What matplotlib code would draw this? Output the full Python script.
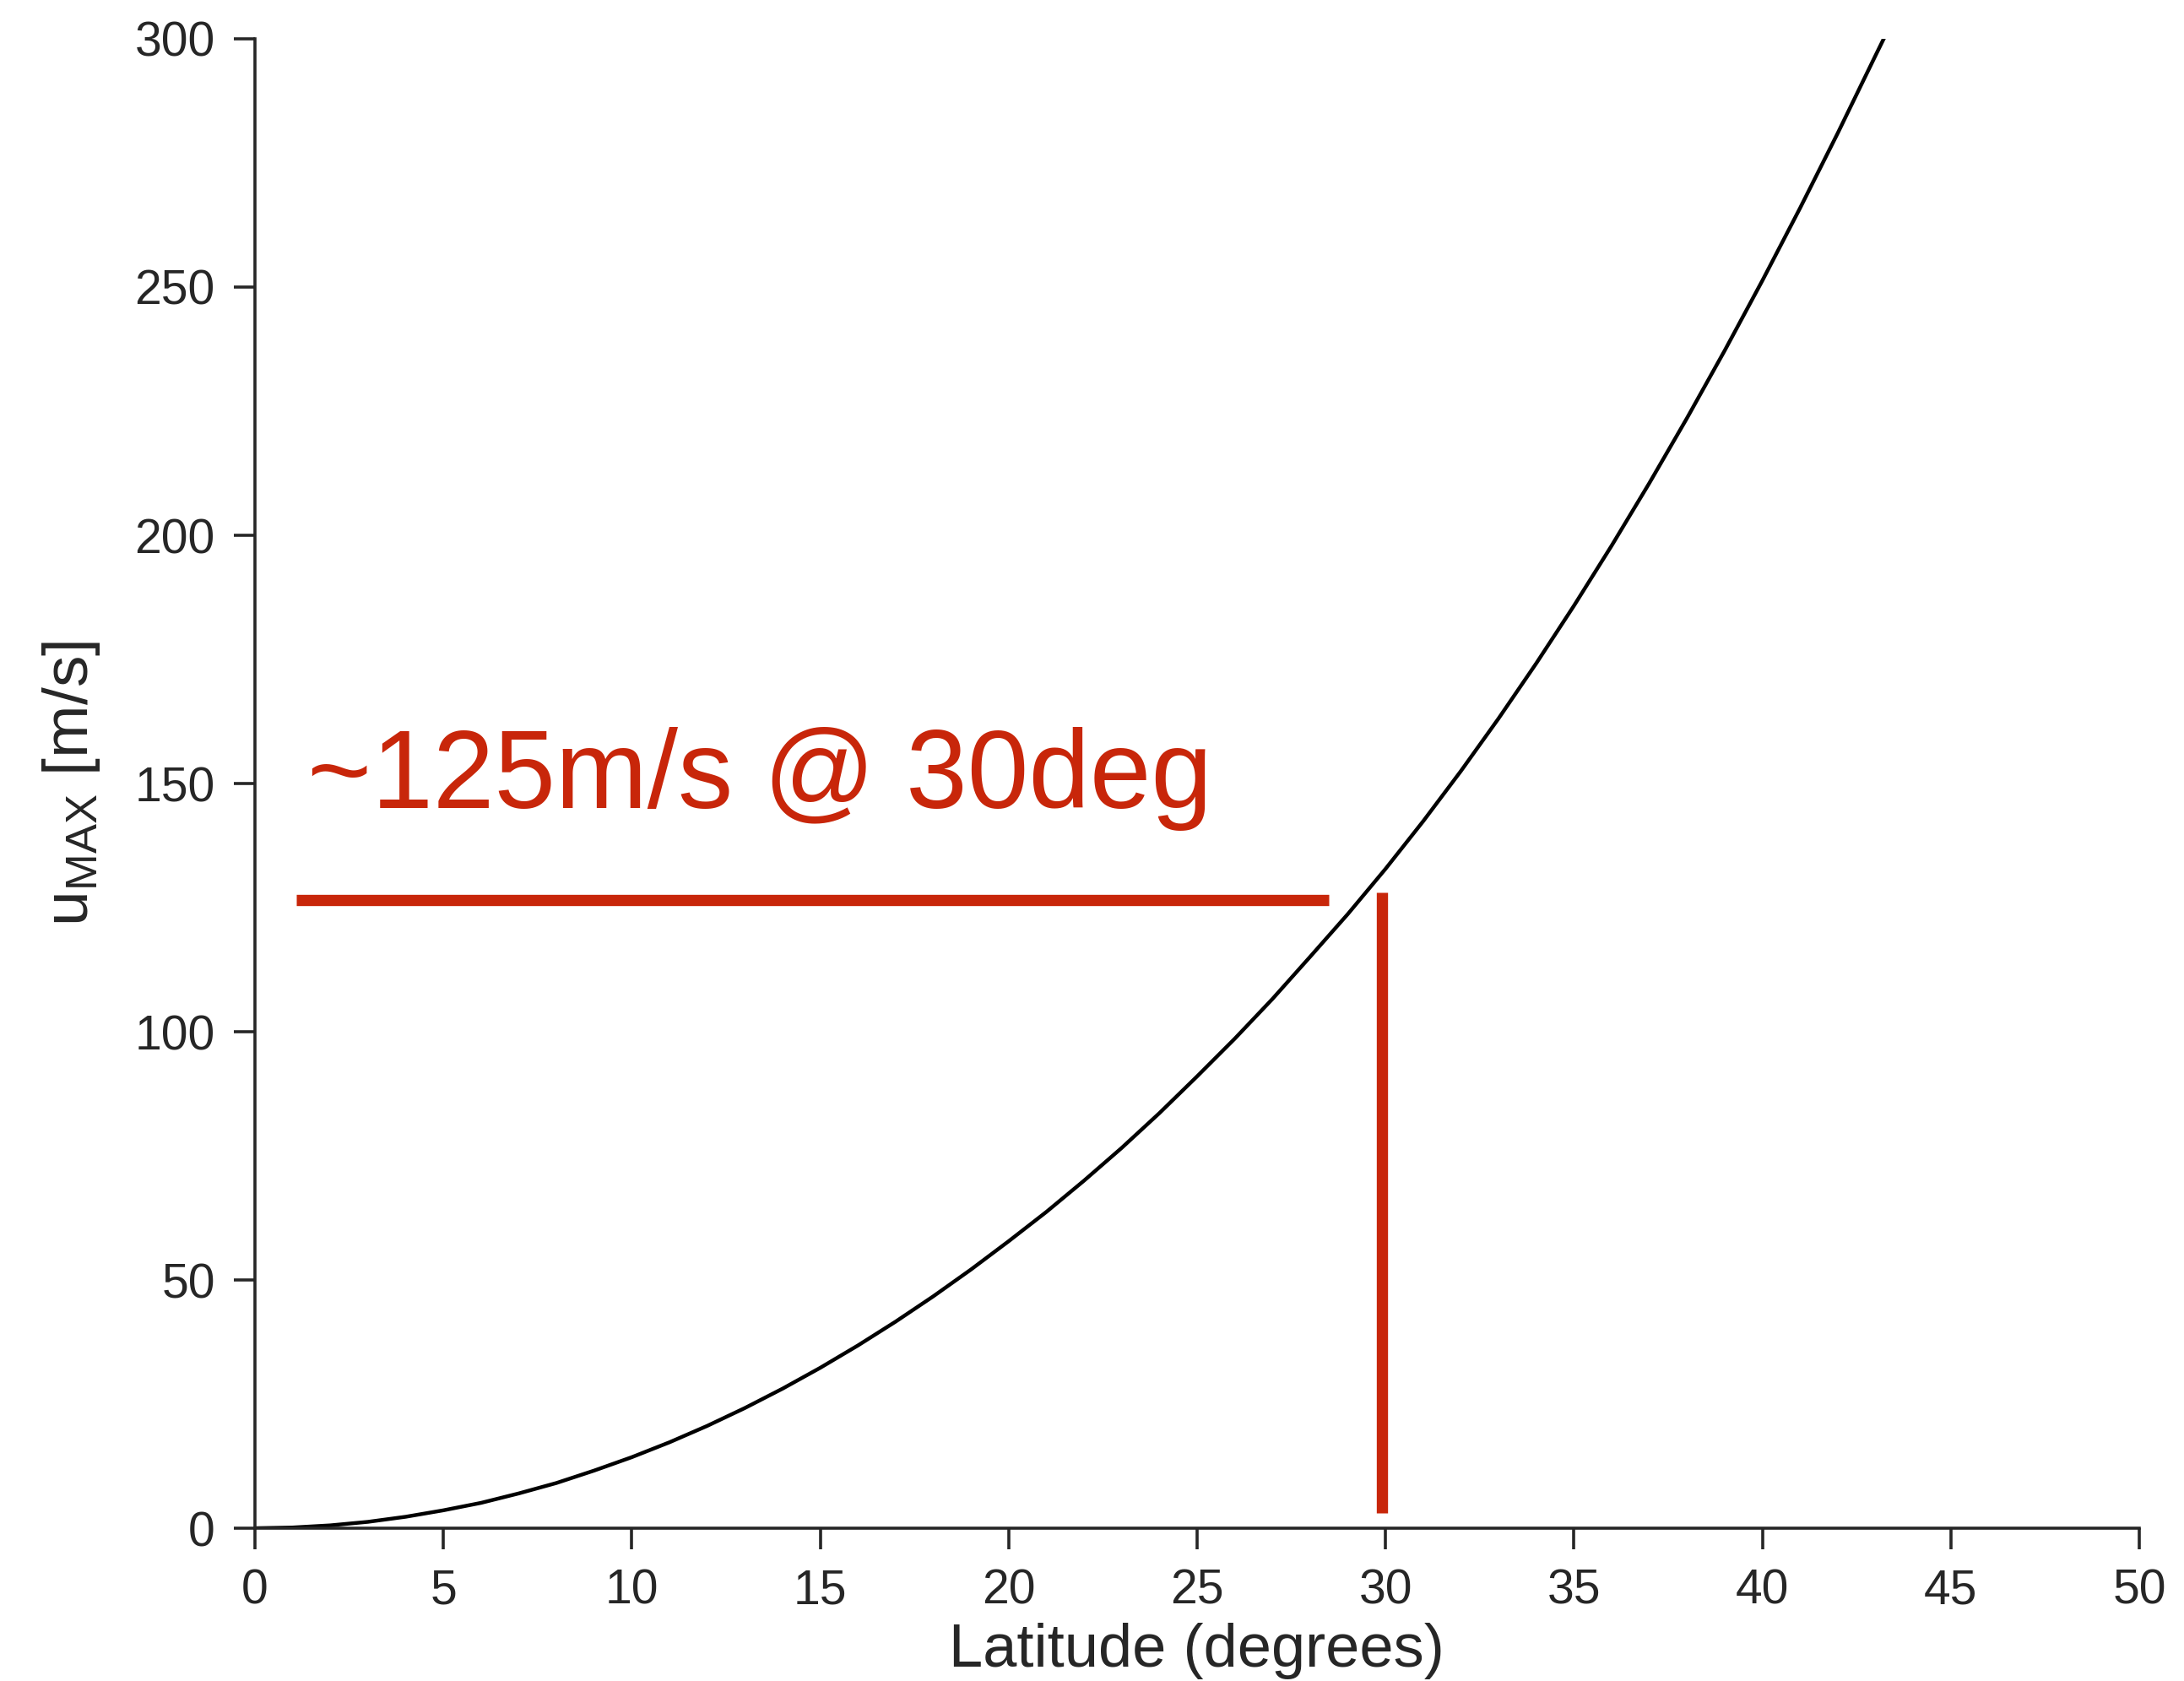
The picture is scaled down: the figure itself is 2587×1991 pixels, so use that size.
import numpy as np
import matplotlib.pyplot as plt

# values (one per degree)
latitude = [0, 1, 2, 3, 4, 5, 6, 7, 8, 9, 10, 11, 12, 13, 14, 15, 16, 17, 18,
            19, 20, 21, 22, 23, 24, 25, 26, 27, 28, 29, 30, 31, 32, 33, 34,
            35, 36, 37, 38, 39, 40, 41, 42, 43, 43.22]
u_max = [0, 0.14, 0.57, 1.28, 2.3, 3.6, 5.1, 7.0, 9.1, 11.6, 14.3, 17.3, 20.6,
         24.2, 28.1, 32.3, 36.8, 41.6, 46.7, 52.1, 57.8, 63.7, 70.0, 76.6,
         83.6, 91.0, 98.6, 106.6, 115.1, 123.7, 132.8, 142.4, 152.5, 163.1,
         174.2, 185.8, 197.9, 210.5, 223.6, 237.2, 251.3, 265.9, 281.0,
         296.6, 300.0]

hline_x = [1.1, 28.5]
hline_y = [126.5, 126.5]
vline_x = [29.9, 29.9]
vline_y = [3.0, 128.0]
note = "~125m/s @ 30deg"

xticks = np.arange(0, 51, 5)
yticks = np.arange(0, 301, 50)

plt.rcParams['font.family'] = ['Liberation Sans', 'DejaVu Sans']
plt.rcParams['mathtext.fontset'] = 'custom'
plt.rcParams['mathtext.rm'] = 'Liberation Sans'
plt.rcParams['mathtext.it'] = 'Liberation Sans'

red = '#c8260a'
dark = '#262626'

fig = plt.figure(figsize=(12.935, 9.955), dpi=200)
ax = fig.add_axes([0.1167, 0.0909, 0.8628, 0.886])

ax.plot(latitude, u_max, color='black', lw=1.6)
ax.plot(hline_x, hline_y, color=red, lw=4.8, solid_capstyle='butt')
ax.plot(vline_x, vline_y, color=red, lw=4.8, solid_capstyle='butt')
ax.text(1.4, 145, note, color=red, fontsize=47, ha='left', va='baseline')

ax.set_xlim(0, 50)
ax.set_ylim(0, 300)
ax.set_xticks(xticks)
ax.set_yticks(yticks)
for s in ['top', 'right']:
    ax.spines[s].set_visible(False)
for s in ['left', 'bottom']:
    ax.spines[s].set_color(dark)
    ax.spines[s].set_linewidth(1.3)
ax.tick_params(axis='both', direction='out', length=9, width=1.3,
               color=dark, labelcolor=dark, labelsize=20.5, pad=8)

ax.set_xlabel('Latitude (degrees)', fontsize=26, color=dark, labelpad=4)
ax.set_ylabel(r'u$_{\mathrm{MAX}}$ [m/s]', fontsize=27, color=dark, labelpad=14)

fig.savefig('out.png', dpi=200)
